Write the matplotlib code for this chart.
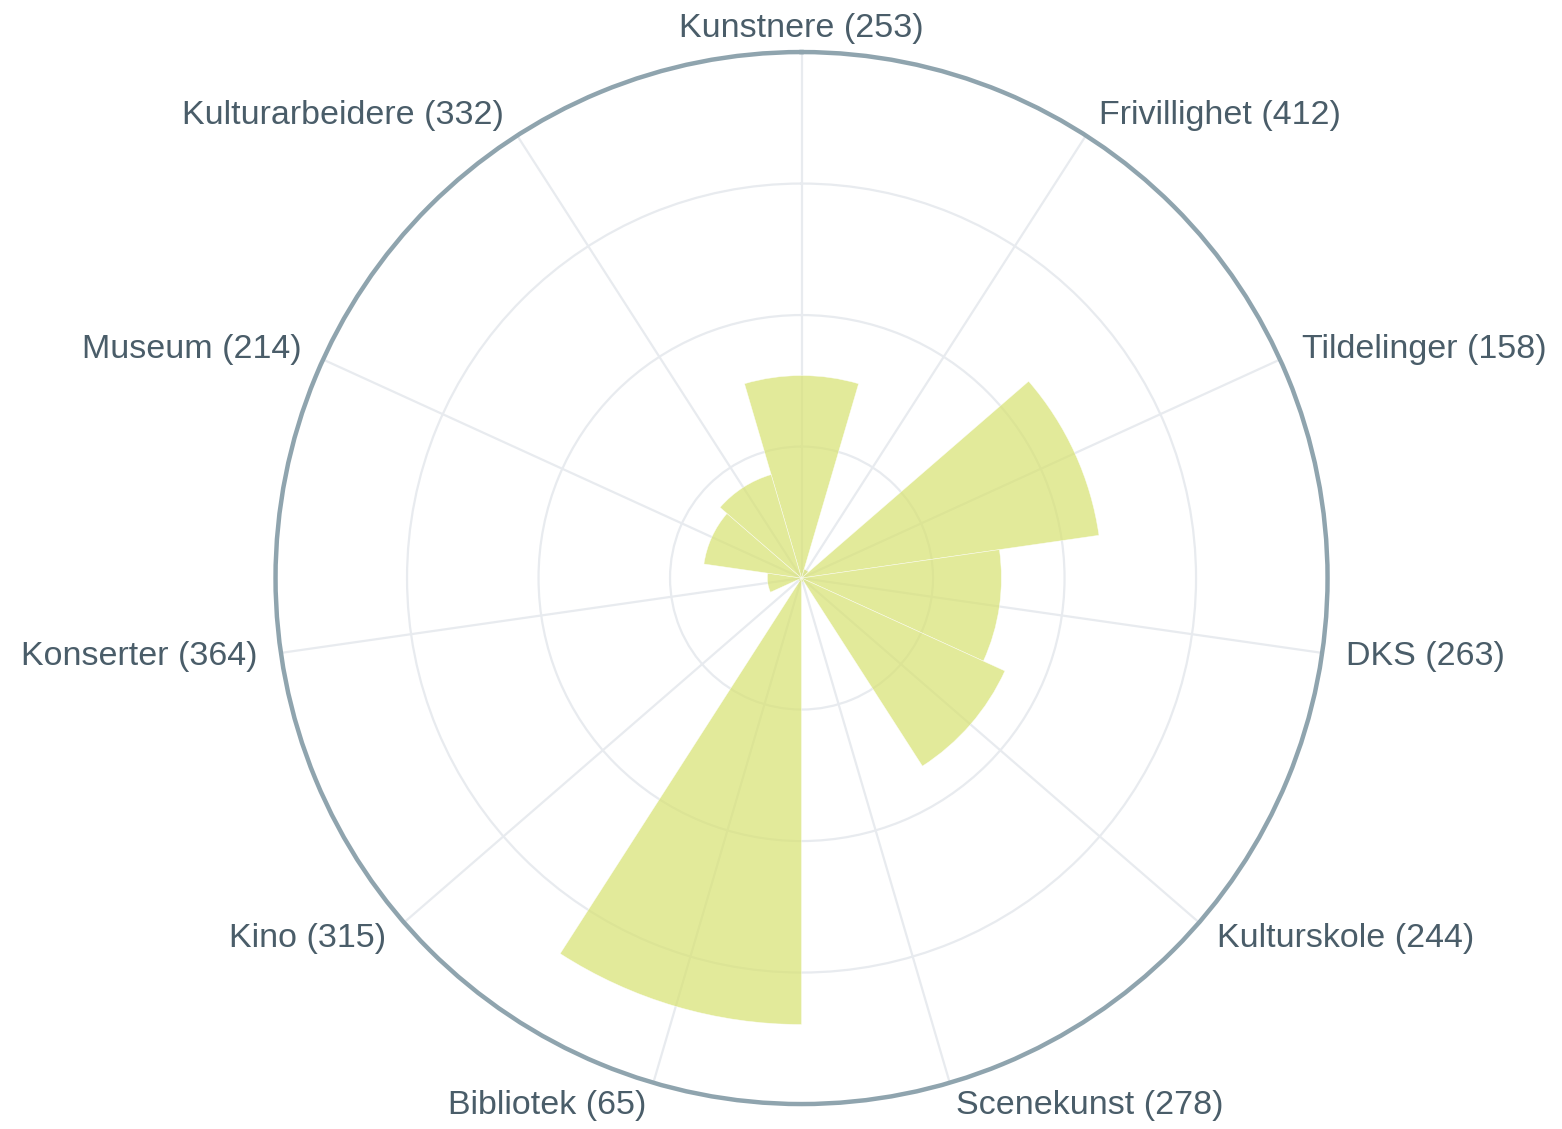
import numpy as np
import matplotlib
matplotlib.use('Agg')
import matplotlib.pyplot as plt

categories = ['Kunstnere', 'Frivillighet', 'Tildelinger', 'DKS', 'Kulturskole',
              'Scenekunst', 'Bibliotek', 'Kino', 'Konserter', 'Museum', 'Kulturarbeidere']
counts = [253, 412, 158, 263, 244, 278, 65, 315, 364, 214, 332]
values = [1.54, 0.07, 2.285, 1.52, 1.70, 0.03, 3.395, 0.03, 0.26, 0.75, 0.82]

plt.rcParams['font.family'] = ['Liberation Sans', 'DejaVu Sans']

n = len(categories)
theta = np.arange(n) * 2 * np.pi / n
rmax = 4.0

fig = plt.figure(figsize=(15.62, 11.29), dpi=100)
ax = fig.add_axes([0.1764, 0.0221, 0.6735, 0.9318], projection='polar')
ax.set_theta_zero_location('N')
ax.set_theta_direction(-1)
ax.set_axisbelow(True)

ax.bar(theta, values, width=2 * np.pi / n, bottom=0, color='#d7e270',
       alpha=0.7, edgecolor='white', linewidth=0.4)

ax.set_ylim(0, rmax)
ax.set_yticks([1, 2, 3])
ax.set_yticklabels([])
ax.set_xticks(theta)
ax.set_xticklabels([])
ax.tick_params(length=0)
ax.grid(True, color='#e8ebef', linewidth=1.6)
ax.spines['polar'].set_color('#8fa4ae')
ax.spines['polar'].set_linewidth(3.2)

# labels outside the ring
lab_r = rmax * 550 / 526
for t, c, k in zip(theta, categories, counts):
    s = np.sin(t)
    if s > 0.05:
        ha = 'left'
    elif s < -0.05:
        ha = 'right'
    else:
        ha = 'center'
    ax.text(t, lab_r, f'{c} ({k})', ha=ha, va='center', fontsize=24.5,
            color='#4a5d69', clip_on=False)

fig.savefig('out.png', dpi=100, facecolor='white')
